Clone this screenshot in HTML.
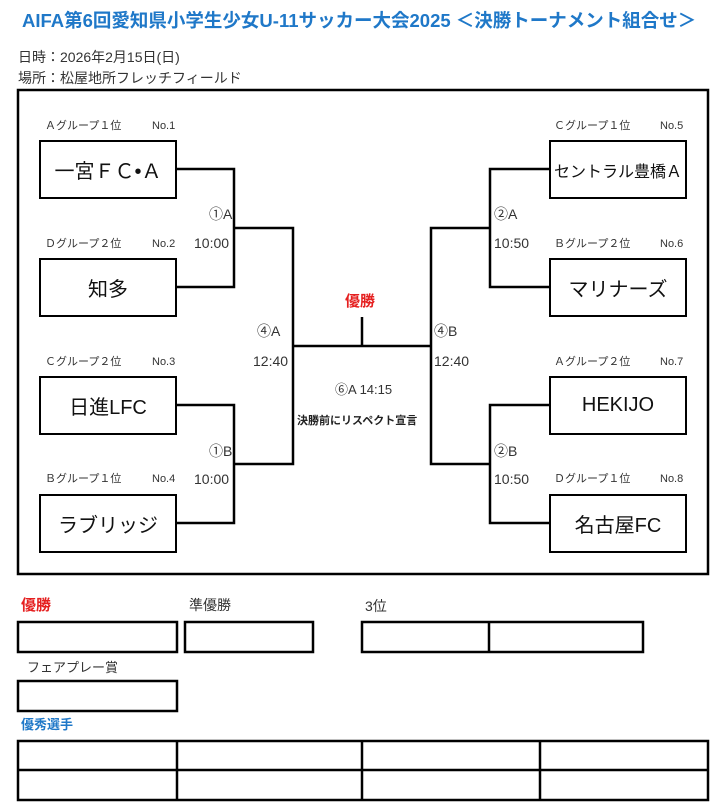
<!DOCTYPE html>
<html><head><meta charset="utf-8"><style>
body{margin:0;width:724px;height:810px;background:#fff;overflow:hidden;position:relative;font-family:"Liberation Sans","Noto Sans CJK JP",sans-serif;color:#222}
.t{position:absolute;white-space:nowrap;line-height:1}
.b{position:absolute;border:2.5px solid #000;box-sizing:border-box;display:flex;align-items:center;justify-content:center;font-size:20px;color:#111}
.g{font-size:11px;color:#333}
.m{font-size:14px;color:#333}
</style></head><body>
<div class="t" style="left:22px;top:12px;font-size:18.5px;font-weight:bold;color:#1f78c8">AIFA第6回愛知県小学生少女U-11サッカー大会2025 ＜決勝トーナメント組合せ＞</div>
<div class="t" style="left:18px;top:50px;font-size:14px;color:#333">日時：2026年2月15日(日)</div>
<div class="t" style="left:18px;top:71px;font-size:14px;color:#333">場所：松屋地所フレッチフィールド</div>

<svg style="position:absolute;left:0;top:0" width="724" height="810">
<g fill="none" stroke="#000" stroke-width="2.5">
<rect x="18" y="90" width="690" height="484"/>
<polyline points="177,169 234,169 234,287 177,287"/>
<polyline points="177,405 234,405 234,523 177,523"/>
<polyline points="234,228 293,228 293,464 234,464"/>
<polyline points="549,169 490,169 490,287 549,287"/>
<polyline points="549,405 490,405 490,523 549,523"/>
<polyline points="490,228 431,228 431,464 490,464"/>
<line x1="293" y1="346" x2="431" y2="346"/>
<line x1="362" y1="317" x2="362" y2="346"/>
<rect x="18" y="622" width="159" height="30"/>
<rect x="185" y="622" width="128" height="30"/>
<rect x="362" y="622" width="281" height="30"/>
<line x1="489" y1="622" x2="489" y2="652"/>
<rect x="18" y="681" width="159" height="30"/>
<rect x="18" y="741" width="690" height="59"/>
<line x1="18" y1="770" x2="708" y2="770"/>
<line x1="177" y1="741" x2="177" y2="800"/>
<line x1="362" y1="741" x2="362" y2="800"/>
<line x1="540" y1="741" x2="540" y2="800"/>
</g></svg>

<div class="b" style="left:39px;top:140px;width:138px;height:59px">一宮ＦＣ•Ａ</div>
<div class="b" style="left:39px;top:258px;width:138px;height:59px">知多</div>
<div class="b" style="left:39px;top:376px;width:138px;height:59px">日進LFC</div>
<div class="b" style="left:39px;top:494px;width:138px;height:59px">ラブリッジ</div>
<div class="b" style="left:549px;top:140px;width:138px;height:59px;font-size:16px">セントラル豊橋Ａ</div>
<div class="b" style="left:549px;top:258px;width:138px;height:59px">マリナーズ</div>
<div class="b" style="left:549px;top:376px;width:138px;height:59px">HEKIJO</div>
<div class="b" style="left:549px;top:494px;width:138px;height:59px">名古屋FC</div>

<div class="t g" style="left:45px;top:121px">Ａグループ１位</div><div class="t g" style="left:152px;top:121px">No.1</div>
<div class="t g" style="left:45px;top:239px">Ｄグループ２位</div><div class="t g" style="left:152px;top:239px">No.2</div>
<div class="t g" style="left:45px;top:357px">Ｃグループ２位</div><div class="t g" style="left:152px;top:357px">No.3</div>
<div class="t g" style="left:45px;top:474px">Ｂグループ１位</div><div class="t g" style="left:152px;top:474px">No.4</div>
<div class="t g" style="left:554px;top:121px">Ｃグループ１位</div><div class="t g" style="left:660px;top:121px">No.5</div>
<div class="t g" style="left:554px;top:239px">Ｂグループ２位</div><div class="t g" style="left:660px;top:239px">No.6</div>
<div class="t g" style="left:554px;top:357px">Ａグループ２位</div><div class="t g" style="left:660px;top:357px">No.7</div>
<div class="t g" style="left:554px;top:474px">Ｄグループ１位</div><div class="t g" style="left:660px;top:474px">No.8</div>

<div class="t m" style="left:209px;top:207px">①A</div><div class="t m" style="left:194px;top:236px">10:00</div>
<div class="t m" style="left:209px;top:444px">①B</div><div class="t m" style="left:194px;top:472px">10:00</div>
<div class="t m" style="left:494px;top:207px">②A</div><div class="t m" style="left:494px;top:236px">10:50</div>
<div class="t m" style="left:494px;top:444px">②B</div><div class="t m" style="left:494px;top:472px">10:50</div>
<div class="t m" style="left:257px;top:324px">④A</div><div class="t m" style="left:253px;top:354px">12:40</div>
<div class="t m" style="left:434px;top:324px">④B</div><div class="t m" style="left:434px;top:354px">12:40</div>
<div class="t" style="left:345px;top:294px;font-size:15px;font-weight:bold;color:#e52020">優勝</div>
<div class="t" style="left:335px;top:383px;font-size:13px;color:#333">⑥A 14:15</div>
<div class="t" style="left:297px;top:416px;font-size:11px;font-weight:bold;color:#222">決勝前にリスペクト宣言</div>

<div class="t" style="left:21px;top:598px;font-size:15px;font-weight:bold;color:#e52020">優勝</div>
<div class="t" style="left:189px;top:598px;font-size:14px;color:#333">準優勝</div>
<div class="t" style="left:365px;top:599px;font-size:14px;color:#333">3位</div>
<div class="t" style="left:27px;top:661px;font-size:13px;color:#333">フェアプレー賞</div>
<div class="t" style="left:21px;top:718px;font-size:13px;font-weight:bold;color:#1f78c8">優秀選手</div>
</body></html>
